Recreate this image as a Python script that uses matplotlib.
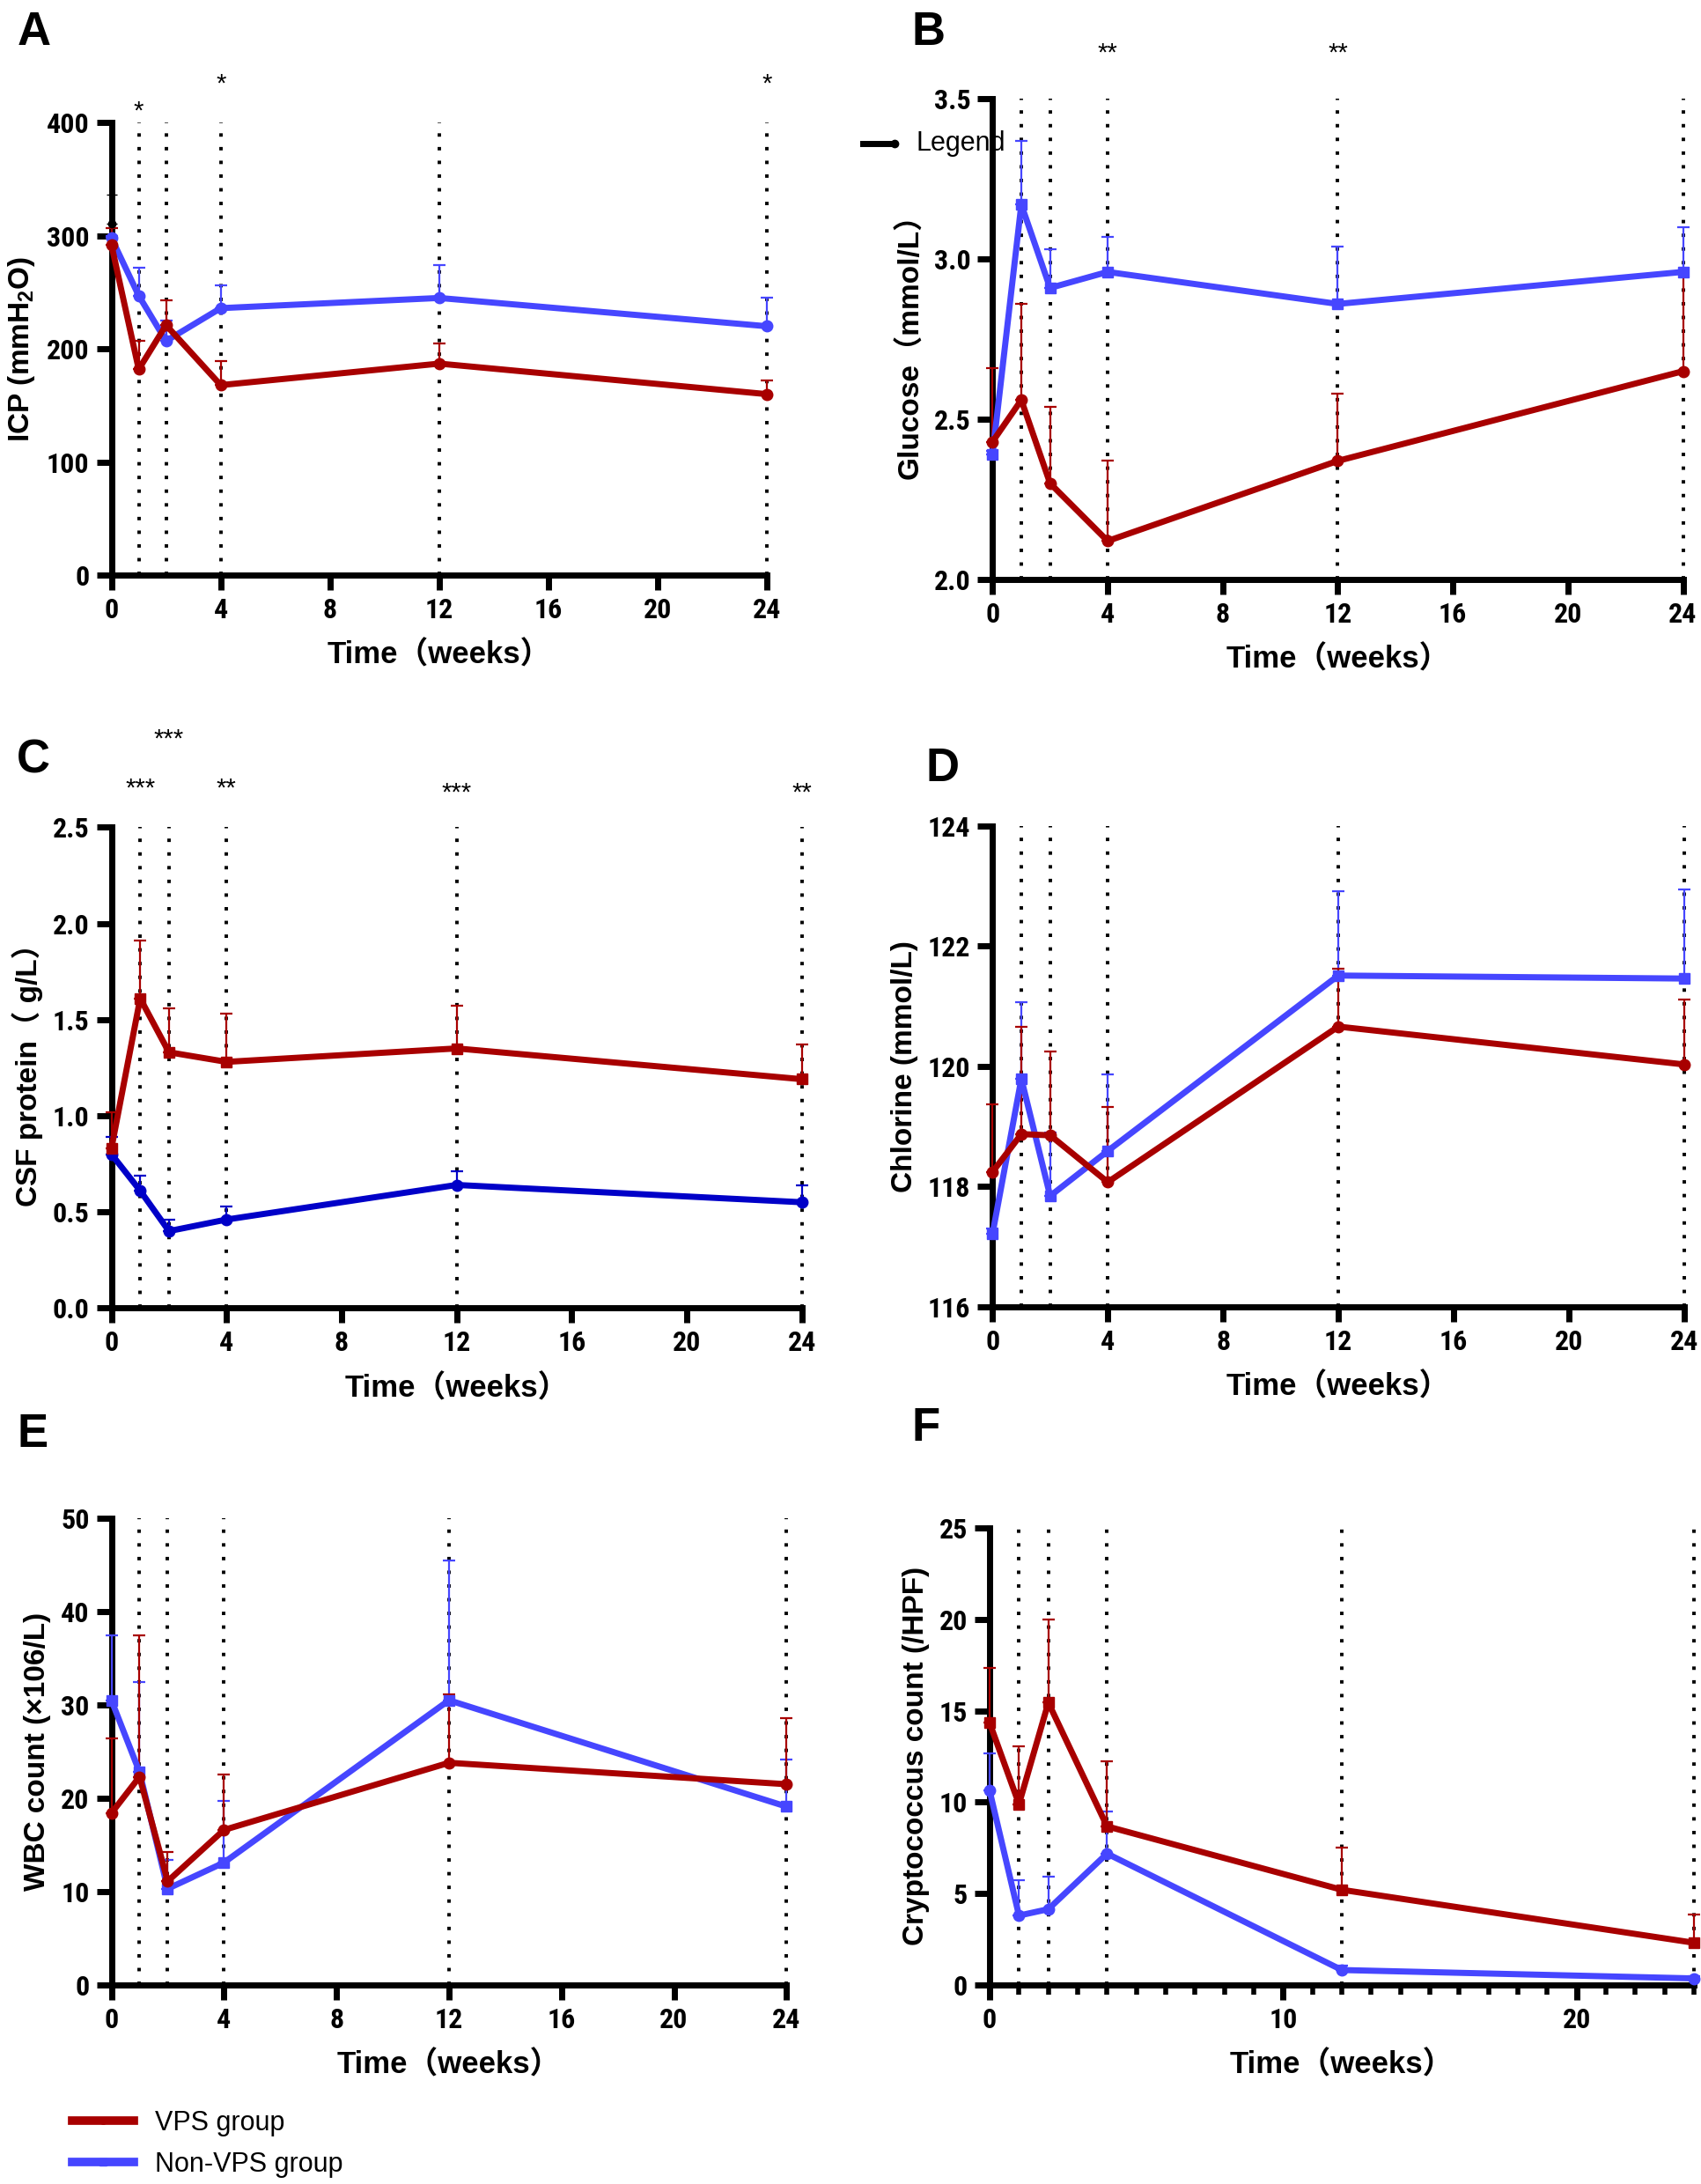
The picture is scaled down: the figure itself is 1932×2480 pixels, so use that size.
import matplotlib
matplotlib.use("Agg")
import matplotlib.pyplot as plt
from matplotlib.lines import Line2D
from matplotlib import font_manager
import numpy as np

plt.rcParams['mathtext.fontset'] = 'custom'
plt.rcParams['mathtext.bf'] = 'Liberation Sans:bold'
plt.rcParams['mathtext.rm'] = 'Liberation Sans:bold'

weeks = [0, 1, 2, 4, 12, 24]
vlines = [1, 2, 4, 12, 24]

# A: ICP
icp_vps = [292, 182, 221, 168, 187, 160]
icp_vps_err = [307, 207, 243, 189, 205, 172]
icp_non = [298, 247, 207, 236, 245, 220]
icp_non_err = [300, 272, 225, 256, 274, 245]
icp_leg = [311]
icp_leg_err = [336]
# B: Glucose
glu_vps = [2.43, 2.56, 2.30, 2.12, 2.37, 2.65]
glu_vps_err = [2.66, 2.86, 2.54, 2.37, 2.58, 2.96]
glu_non = [2.39, 3.17, 2.91, 2.96, 2.86, 2.96]
glu_non_err = [2.40, 3.37, 3.03, 3.07, 3.04, 3.10]
# C: CSF protein
pro_vps = [0.83, 1.61, 1.33, 1.28, 1.35, 1.19]
pro_vps_err = [1.02, 1.91, 1.56, 1.53, 1.57, 1.37]
pro_non = [0.80, 0.61, 0.40, 0.46, 0.64, 0.55]
pro_non_err = [0.89, 0.69, 0.46, 0.53, 0.71, 0.64]
# D: Chlorine
chl_vps = [118.24, 118.87, 118.85, 118.07, 120.66, 120.03]
chl_vps_err = [119.37, 120.65, 120.25, 119.32, 121.62, 121.11]
chl_non = [117.21, 119.79, 117.84, 118.59, 121.51, 121.46]
chl_non_err = [117.3, 121.06, 118.9, 119.86, 122.92, 122.94]
# E: WBC
wbc_vps = [18.4, 22.3, 11.1, 16.6, 23.8, 21.5]
wbc_vps_err = [26.4, 37.5, 14.2, 22.5, 31.1, 28.6]
wbc_non = [30.5, 22.8, 10.3, 13.1, 30.5, 19.1]
wbc_non_err = [37.5, 32.5, 13.4, 19.7, 45.5, 24.1]
# F: Cryptococcus
cry_vps = [14.33, 9.89, 15.44, 8.67, 5.20, 2.30]
cry_vps_err = [17.33, 13.05, 19.99, 12.24, 7.53, 3.87]
cry_non = [10.62, 3.79, 4.14, 7.18, 0.81, 0.35]
cry_non_err = [12.68, 5.74, 5.90, 9.48, 1.03, 0.45]

RED = '#A80000'
BLUE = '#4646FF'
DBLUE = '#0000C8'

# find a narrow bold font if one is installed
narrow = None
for f in font_manager.fontManager.ttflist:
    fn = f.fname.lower()
    if ('narrow' in fn or 'condensed' in fn) and f.weight in (700, 'bold'):
        narrow = f.name
        if 'liberation' in fn:
            break
tick_family = ([narrow] if narrow else []) + ['Liberation Sans', 'DejaVu Sans']

fig = plt.figure(figsize=(19.32, 24.8), dpi=100)

TICKFONT = dict(family=tick_family, weight='bold', size=23,
                stretch='condensed')
LABFONT = ['Liberation Sans', 'Noto Sans CJK SC', 'DejaVu Sans']

panels = [
    dict(rect=[0.0655, 0.7366, 0.3855, 0.2073], letter='A', lpos=(0.010, 0.985),
         vps=(icp_vps, icp_vps_err, 'o'), non=(icp_non, icp_non_err, 'o', BLUE),
         ylim=(0, 400), yticks=[0, 100, 200, 300, 400], yfmt='{:.0f}',
         ylabel=r'ICP (mmH$\mathbf{_2}$O)',
         stars=[(1, 410, '*'), (4, 434, '*'), (24, 434, '*')]),
    dict(rect=[0.5835, 0.7347, 0.4059, 0.2200], letter='B', lpos=(0.536, 0.985),
         vps=(glu_vps, glu_vps_err, 'o'), non=(glu_non, glu_non_err, 's', BLUE),
         ylim=(2.0, 3.5), yticks=[2.0, 2.5, 3.0, 3.5], yfmt='{:.1f}',
         ylabel='Glucose（mmol/L）',
         stars=[(4, 3.643, '**'), (12, 3.643, '**')]),
    dict(rect=[0.0655, 0.4011, 0.4059, 0.2201], letter='C', lpos=(0.010, 0.652),
         vps=(pro_vps, pro_vps_err, 's'), non=(pro_non, pro_non_err, 'o', DBLUE),
         ylim=(0, 2.5), yticks=[0, 0.5, 1.0, 1.5, 2.0, 2.5], yfmt='{:.1f}',
         ylabel='CSF protein（ g/L）',
         stars=[(2, 2.957, '***'), (1, 2.703, '***'), (4, 2.703, '**'),
                (12, 2.68, '***'), (24, 2.68, '**')]),
    dict(rect=[0.5835, 0.4018, 0.4065, 0.2200], letter='D', lpos=(0.544, 0.648),
         vps=(chl_vps, chl_vps_err, 'o'), non=(chl_non, chl_non_err, 's', BLUE),
         ylim=(116, 124), yticks=[116, 118, 120, 122, 124], yfmt='{:.0f}',
         ylabel='Chlorine (mmol/L)', stars=[]),
    dict(rect=[0.0655, 0.0912, 0.3969, 0.2136], letter='E', lpos=(0.010, 0.343),
         vps=(wbc_vps, wbc_vps_err, 'o'), non=(wbc_non, wbc_non_err, 's', BLUE),
         ylim=(0, 50), yticks=[0, 10, 20, 30, 40, 50], yfmt='{:.0f}',
         ylabel='WBC count (×106/L)', stars=[]),
    dict(rect=[0.5818, 0.0912, 0.4141, 0.2092], letter='F', lpos=(0.536, 0.346),
         vps=(cry_vps, cry_vps_err, 's'), non=(cry_non, cry_non_err, 'o', BLUE),
         ylim=(0, 25), yticks=[0, 5, 10, 15, 20, 25], yfmt='{:.0f}',
         ylabel='Cryptococcus count (/HPF)', stars=[]),
]

handles = None
for i, p in enumerate(panels):
    ax = fig.add_axes(p['rect'])
    for v in vlines:
        ax.axvline(v, color='black', lw=2.8, ls=(0, (1, 3)), zorder=1, clip_on=False)
    vy, ve, vm = p['vps']
    ny, ne, nm, nc = p['non']
    for (yv, ev, m, c) in [(ny, ne, nm, nc), (vy, ve, vm, RED)]:
        yv = np.array(yv); ev = np.array(ev)
        up = np.clip(ev - yv, 0, None)
        ax.errorbar(weeks, yv, yerr=[np.zeros_like(up), up], fmt='none',
                    ecolor=c, elinewidth=1.6, capsize=5, capthick=1.6, zorder=3,
                    clip_on=False)
    if i == 0:
        ly = np.array(icp_leg); le = np.array(icp_leg_err)
        ax.errorbar([0], ly, yerr=[[0], le - ly], fmt='o', color='black', ms=6,
                    elinewidth=1.5, capsize=4, zorder=3, clip_on=False)
    l_non, = ax.plot(weeks, ny, color=nc, lw=5, marker=nm, ms=9, zorder=4, clip_on=False)
    l_vps, = ax.plot(weeks, vy, color=RED, lw=5, marker=vm, ms=9, zorder=5, clip_on=False)
    if i == 4:
        handles = (l_vps, l_non)
    ax.set_xlim(0, 24)
    ax.set_ylim(*p['ylim'])
    if i == 5:
        ax.set_xticks([0, 10, 20])
        ax.set_xticks(range(0, 25), minor=True)
        ax.tick_params(axis='x', which='minor', length=8, width=4, direction='out')
    else:
        ax.set_xticks([0, 4, 8, 12, 16, 20, 24])
    ax.set_yticks(p['yticks'])
    ax.set_yticklabels([p['yfmt'].format(t) for t in p['yticks']], fontdict=TICKFONT)
    ax.set_xticklabels([str(t) for t in ax.get_xticks()], fontdict=TICKFONT)
    for s in ['top', 'right']:
        ax.spines[s].set_visible(False)
    for s in ['left', 'bottom']:
        ax.spines[s].set_linewidth(5)
    ax.tick_params(axis='both', which='major', length=12, width=5, direction='out', pad=6)
    ax.set_xlabel('Time（weeks）', family=LABFONT, weight='bold', size=25, labelpad=14)
    ax.set_ylabel(p['ylabel'], family=LABFONT, weight='bold', size=24, labelpad=8)
    for (sx, sy, st) in p['stars']:
        ax.text(sx, sy, st, ha='center', va='center', fontsize=21, clip_on=False,
                family='Liberation Sans')
    fig.text(p['lpos'][0], p['lpos'][1], p['letter'], fontsize=38, weight='bold',
             family='Liberation Sans', ha='left', va='center')

# stray "Legend" entry in panel B
fig.add_artist(Line2D([0.507, 0.526], [0.9343, 0.9343], color='black', lw=5,
                      marker='o', markevery=[1], ms=6, transform=fig.transFigure))
fig.text(0.5385, 0.9343, 'Legend', fontsize=22, family='Liberation Sans',
         ha='left', va='center')

leg = fig.legend(handles, ['VPS group', 'Non-VPS group'], loc='upper left',
                 bbox_to_anchor=(0.028, 0.045), frameon=False,
                 prop={'family': 'Liberation Sans', 'size': 22},
                 handlelength=2.3, labelspacing=0.55, markerscale=0.6)
for h in leg.get_lines():
    h.set_linewidth(7)

fig.savefig('out.png', dpi=100)
